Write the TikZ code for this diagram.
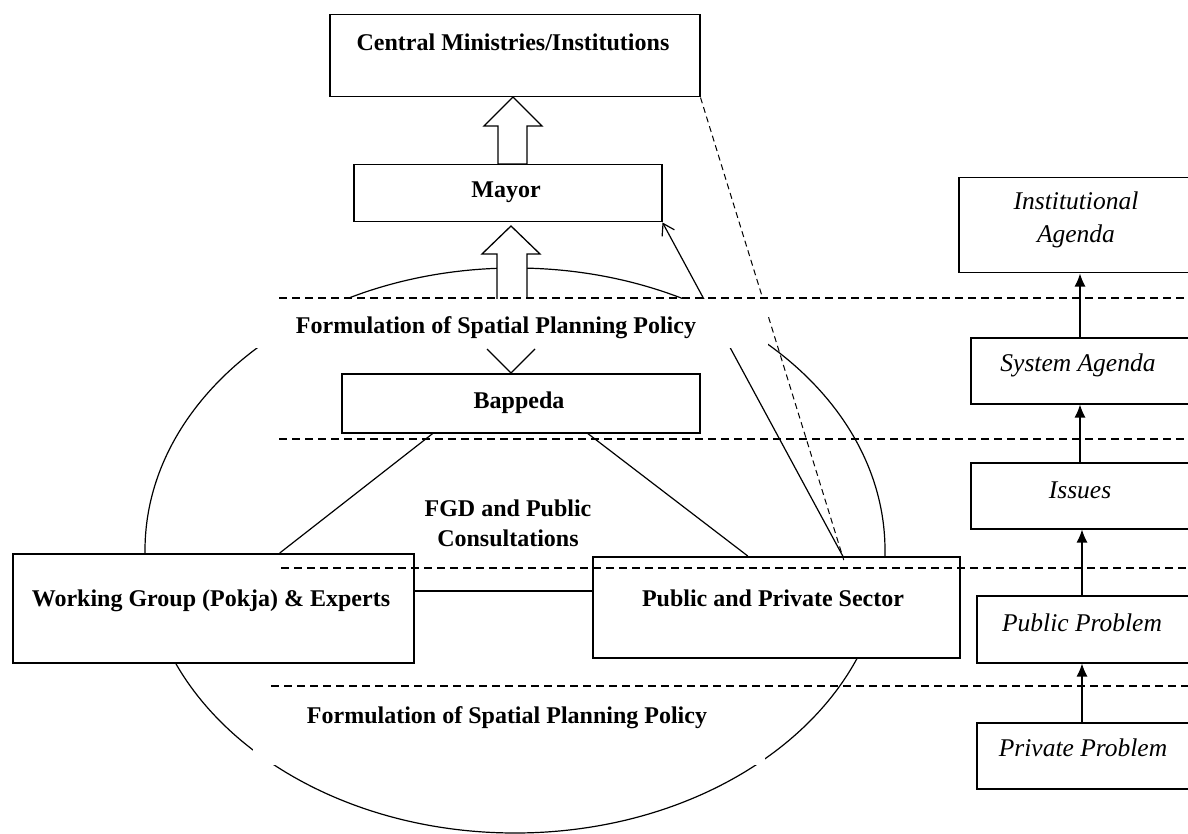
\documentclass[tikz,border=0pt]{standalone}
\usepackage{fontspec}
\setmainfont{Liberation Serif}
\usetikzlibrary{arrows.meta,calc}
\begin{document}
\begin{tikzpicture}[x=1pt,y=-1pt,line width=1.2pt,
  box/.style={draw,fill=white,line width=1.5pt,inner sep=0pt,anchor=north west},
  lbl/.style={font=\bfseries\fontsize{24}{30}\selectfont,inner sep=0pt,text height=16pt,text depth=0pt},
  mlbl/.style={font=\bfseries\fontsize{24}{30}\selectfont,inner sep=0pt,align=center},
  ilbl/.style={font=\itshape\fontsize{25.5}{33}\selectfont,inner sep=0pt,text height=16pt,text depth=0pt},
  milbl/.style={font=\itshape\fontsize{25.5}{33}\selectfont,inner sep=0pt,align=center},
  hd/.style={dash pattern=on 8pt off 5pt,line width=1.2pt},
  thin dash/.style={dash pattern=on 6pt off 4pt,line width=1pt},
  arr/.style={-{Latex[length=13pt,width=11pt]},line width=1.3pt},
  blockarrow/.style={draw,fill=white,line width=1.3pt}]
\useasboundingbox (0,0) rectangle (1188,834);
\clip (0,0) rectangle (1188,834);
\fill[white] (0,0) rectangle (1188,834);

% ellipse
\draw[line width=1.2pt] (515,550.5) ellipse [x radius=370pt, y radius=282.5pt];

% boxes
\node[box,minimum width=370pt,minimum height=82pt] (central) at (329,14) {};
\node[box,minimum width=308pt,minimum height=57pt] (mayor) at (353,164) {};
\node[box,minimum width=358pt,minimum height=59pt] (bap) at (341,373) {};
\node[box,minimum width=401pt,minimum height=109pt] (wg) at (12,553) {};
\node[box,minimum width=367pt,minimum height=101pt] (pps) at (592,556) {};
\node[box,minimum width=240pt,minimum height=95pt] (inst) at (958,177) {};
\node[box,minimum width=240pt,minimum height=66pt] (sys) at (970,337) {};
\node[box,minimum width=240pt,minimum height=66pt] (iss) at (970,462) {};
\node[box,minimum width=240pt,minimum height=67pt] (pubp) at (976,595) {};
\node[box,minimum width=240pt,minimum height=66pt] (privp) at (976,722) {};

% connectors passing behind the text band
\draw[-{Straight Barb[length=11pt,width=14pt]},line width=1.2pt] ([xshift=66.5pt]pps.north) -- (mayor.south east);
\draw[thin dash] (central.south east) -- ([xshift=67.5pt,yshift=-4pt]pps.north);

% block arrow from ellipse to Mayor
\draw[blockarrow] (497,320) -- (497,254) -- (482,254) -- (511,226) -- (540,254) -- (527,254) -- (527,320) -- cycle;
% block arrow Mayor to Central
\draw[blockarrow] (498,164) -- (498,126) -- (484,126) -- (513,97) -- (542,126) -- (527,126) -- (527,164) -- cycle;

% white bands behind the two titles
\fill[white] (245,299) rectangle (768,348);
\fill[white] (253,690) rectangle (765,765);

% head of the arrow into Bappeda
\coordinate (vtip) at (511,373);
\draw (487,349) -- (vtip) -- (535,349);

% lines between boxes
\draw ([xshift=-88pt]bap.south) -- ([xshift=66.5pt]wg.north);
\draw ([xshift=67pt]bap.south) -- ([xshift=-28.5pt]pps.north);
\coordinate (wgy) at (0,591);
\draw (wg.east |- wgy) -- (pps.west |- wgy);

% right column arrows
\coordinate (ax1) at (1082,0);
\coordinate (ax2) at (1080,0);
\draw[arr] (privp.north -| ax1) -- (pubp.south -| ax1);
\draw[arr] (pubp.north -| ax1) -- (iss.south -| ax1);
\draw[arr] (iss.north -| ax2) -- (sys.south -| ax2);
\draw[arr] (sys.north -| ax2) -- (inst.south -| ax2);

% labels
\node[lbl] (tcentral) at (513,43) {Central Ministries/Institutions};
\node[lbl] (tmayor) at (506,190) {Mayor};
\node[lbl] (tbap) at (519,400) {Bappeda};
\node[lbl] (twg) at (211,598) {Working Group (Pokja) \& Experts};
\node[lbl] (tpps) at (773,598) {Public and Private Sector};
\node[lbl] (tform1) at (496,325) {Formulation of Spatial Planning Policy};
\node[lbl] (tform2) at (507,715) {Formulation of Spatial Planning Policy};
\node[mlbl] (tfgd) at (508,523) {FGD and Public\\Consultations};
\node[milbl] (tinst) at (1076,219.5) {Institutional\\Agenda};
\node[ilbl] (tsys) at (1078,363) {System Agenda};
\node[ilbl] (tiss) at (1080,490) {Issues};
\node[ilbl] (tpub) at (1082,623) {Public Problem};
\node[ilbl] (tpriv) at (1083,748) {Private Problem};

% dashed separators
\draw[hd] (279,298) -- (1188,298);
\draw[hd] (279,439) -- (1188,439);
\draw[hd] (281,568) -- (1188,568);
\draw[hd] (271,686) -- (1188,686);
\end{tikzpicture}
\end{document}
